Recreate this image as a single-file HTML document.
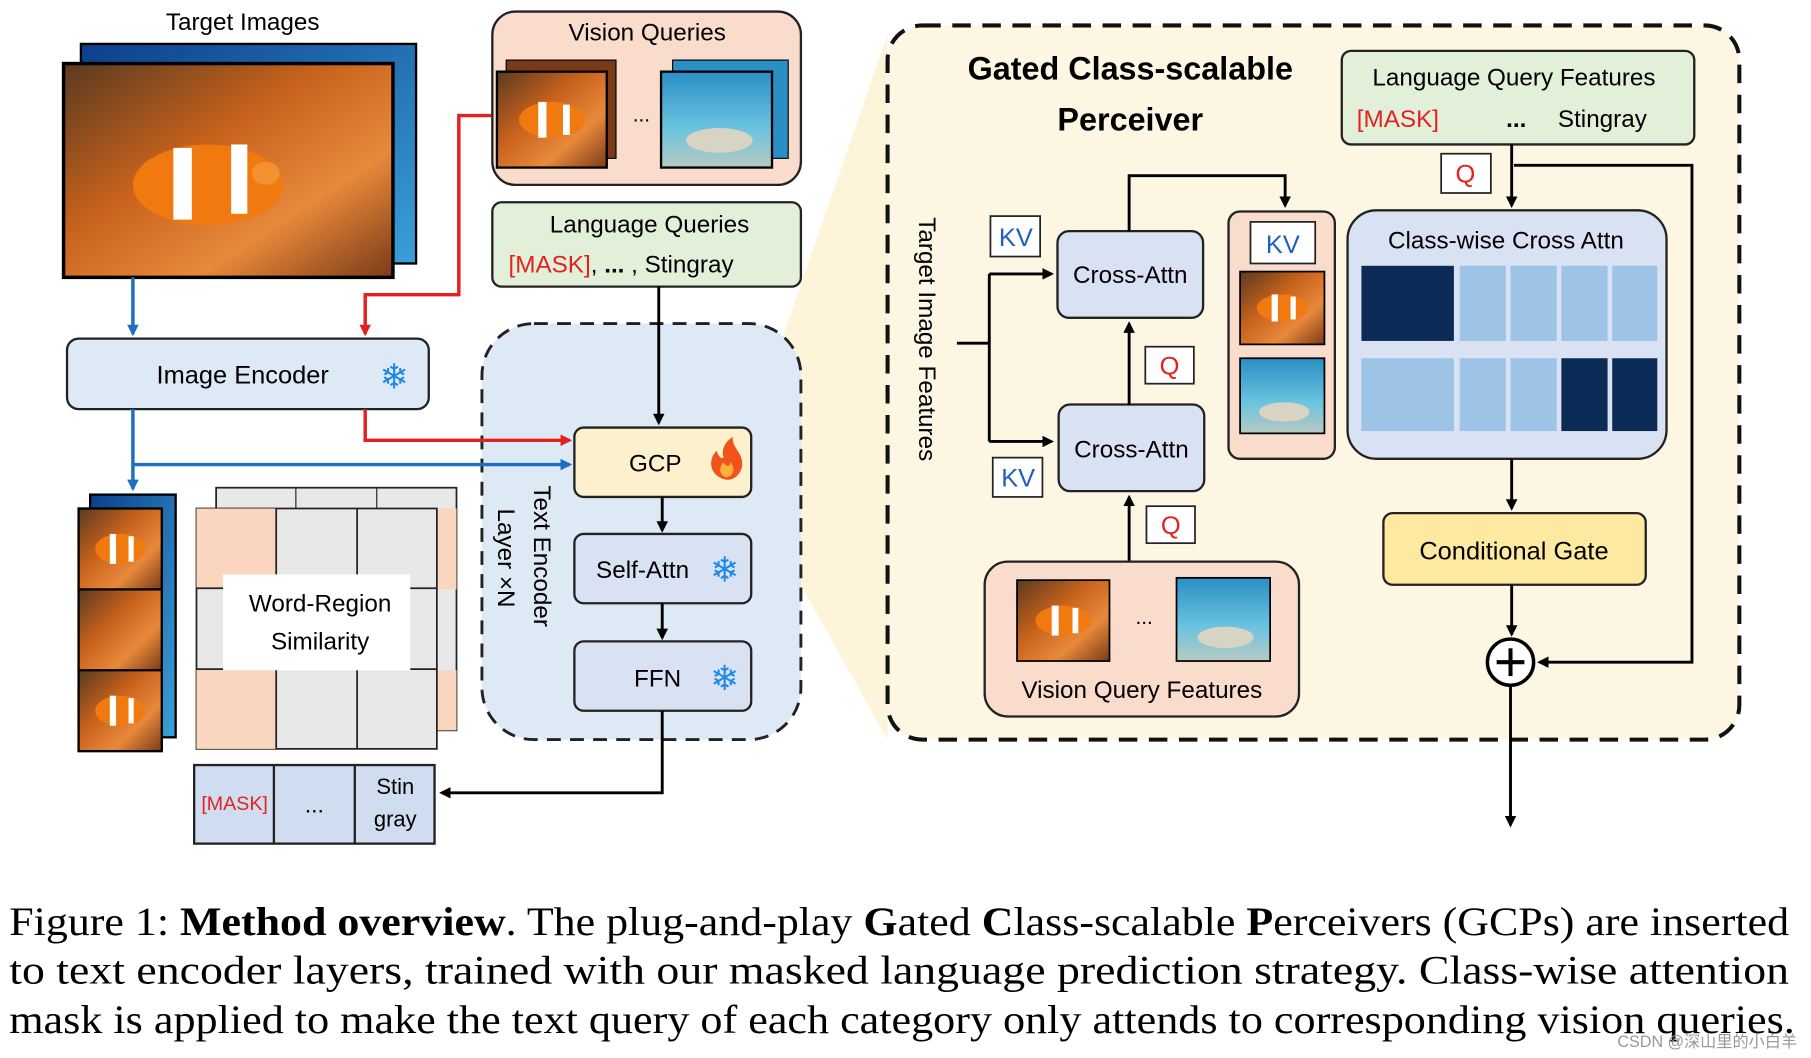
<!DOCTYPE html>
<html><head><meta charset="utf-8"><style>
html,body{margin:0;padding:0;background:#fff;}
svg{display:block;}
text{font-family:"Liberation Sans","DejaVu Sans",sans-serif;}
.s{font-family:"Liberation Serif",serif;}
</style></head><body>
<svg width="1811" height="1058" viewBox="0 0 1567 915.5" preserveAspectRatio="none" xmlns="http://www.w3.org/2000/svg">
<defs>
<marker id="ak" markerWidth="10" markerHeight="10" refX="8" refY="5" orient="auto" markerUnits="userSpaceOnUse"><path d="M0,0 L10,5 L0,10 z" fill="#000"/></marker>
<marker id="ab" markerWidth="10" markerHeight="10" refX="8" refY="5" orient="auto" markerUnits="userSpaceOnUse"><path d="M0,0 L10,5 L0,10 z" fill="#1f6fc0"/></marker>
<marker id="ar" markerWidth="10" markerHeight="10" refX="8" refY="5" orient="auto" markerUnits="userSpaceOnUse"><path d="M0,0 L10,5 L0,10 z" fill="#e52020"/></marker>
<linearGradient id="fish" x1="0" y1="0" x2="1" y2="1"><stop offset="0" stop-color="#5a3a20"/><stop offset="0.4" stop-color="#c8621c"/><stop offset="0.7" stop-color="#e8893a"/><stop offset="1" stop-color="#7a3a18"/></linearGradient>
<linearGradient id="sea" x1="0" y1="0" x2="0" y2="1"><stop offset="0" stop-color="#2a8fc4"/><stop offset="0.6" stop-color="#6cc4e0"/><stop offset="1" stop-color="#b9c9c0"/></linearGradient>
<linearGradient id="bl" x1="0" y1="0" x2="1" y2="1"><stop offset="0" stop-color="#0c3f8c"/><stop offset="1" stop-color="#3aa0d8"/></linearGradient>
<g id="cf"><rect width="80" height="70" fill="url(#fish)"/><ellipse cx="40" cy="35" rx="24" ry="13" fill="#f07a10"/><rect x="30" y="22" width="6" height="26" fill="#fff"/><rect x="48" y="24" width="5" height="22" fill="#fff"/></g>
<g id="sr"><rect width="80" height="70" fill="url(#sea)"/><ellipse cx="42" cy="50" rx="24" ry="9" fill="#d8d4c4"/></g>
</defs>

<text x="210" y="26" font-size="21" text-anchor="middle">Target Images</text>
<rect x="70" y="38" width="290" height="190" fill="url(#bl)" stroke="#000" stroke-width="2"/>
<rect x="55" y="55" width="285" height="185" fill="url(#fish)" stroke="#000" stroke-width="3"/>
<ellipse cx="180" cy="160" rx="65" ry="35" fill="#f07a10"/>
<rect x="150" y="128" width="16" height="62" fill="#fff"/><rect x="200" y="125" width="14" height="60" fill="#fff"/>
<ellipse cx="230" cy="150" rx="12" ry="10" fill="#f39030"/>

<rect x="58" y="293" width="313" height="61" rx="10" fill="#dde9f5" stroke="#222" stroke-width="2"/>
<text x="210" y="332" font-size="22" text-anchor="middle">Image Encoder</text>
<text x="341" y="336" font-size="30" text-anchor="middle" fill="#1e88e5">❄</text>

<line x1="115" y1="240" x2="115" y2="289" stroke="#1f6fc0" stroke-width="3" marker-end="url(#ab)"/>
<polyline points="425,100 397,100 397,255 316,255 316,289" fill="none" stroke="#e52020" stroke-width="3" marker-end="url(#ar)"/>
<line x1="115" y1="354" x2="115" y2="423" stroke="#1f6fc0" stroke-width="3" marker-end="url(#ab)"/>

<rect x="426" y="10" width="267" height="150" rx="20" fill="#f9dccb" stroke="#222" stroke-width="2"/>
<text x="560" y="35" font-size="21" text-anchor="middle">Vision Queries</text>
<rect x="438" y="52" width="95" height="85" fill="#7a3a18" stroke="#000"/>
<g transform="translate(430,62) scale(1.19,1.19)"><use href="#cf"/></g><rect x="430" y="62" width="95" height="83" fill="none" stroke="#000" stroke-width="2"/>
<text x="555" y="105" font-size="18" text-anchor="middle">...</text>
<rect x="582" y="52" width="100" height="85" fill="#2a8fc4" stroke="#000"/>
<g transform="translate(572,62) scale(1.2,1.19)"><use href="#sr"/></g><rect x="572" y="62" width="96" height="83" fill="none" stroke="#000" stroke-width="2"/>

<rect x="426" y="175" width="267" height="73" rx="8" fill="#e2efd9" stroke="#222" stroke-width="2"/>
<text x="562" y="201" font-size="21" text-anchor="middle">Language Queries</text>
<text x="440" y="236" font-size="21"><tspan fill="#e52020">[MASK]</tspan>,  <tspan font-weight="bold">...</tspan> , Stingray</text>

<polygon points="650,370 768,30 768,640 650,430" fill="#fdf1d0" opacity="0.8"/>

<rect x="417" y="280" width="276" height="360" rx="45" fill="#dde9f5" stroke="#222" stroke-width="2.5" stroke-dasharray="12,8"/>
<text transform="translate(462,420) rotate(90)" font-size="21">Text  Encoder</text>
<text transform="translate(431,440) rotate(90)" font-size="21">Layer ×N</text>
<line x1="570" y1="248" x2="570" y2="366" stroke="#000" stroke-width="2.5" marker-end="url(#ak)"/>
<polyline points="115,402 493,402" fill="none" stroke="#1f6fc0" stroke-width="3" marker-end="url(#ab)"/>
<polyline points="316,354 316,381 493,381" fill="none" stroke="#e52020" stroke-width="3" marker-end="url(#ar)"/>
<rect x="497" y="370" width="153" height="60" rx="8" fill="#fdf0cd" stroke="#222" stroke-width="2"/>
<text x="567" y="408" font-size="21" text-anchor="middle">GCP</text>
<path d="M628,415 C614,412 612,398 620,390 C622,396 625,397 626,396 C624,388 628,382 634,378 C633,388 644,392 642,404 C640,412 634,416 628,415 z" fill="#f2531b"/>
<path d="M628,413 C622,411 622,404 626,400 C628,404 632,404 632,400 C636,404 636,412 628,413 z" fill="#fbb03b"/>
<line x1="573" y1="430" x2="573" y2="459" stroke="#000" stroke-width="2.5" marker-end="url(#ak)"/>
<rect x="497" y="462" width="153" height="60" rx="8" fill="#d9e2f3" stroke="#222" stroke-width="2"/>
<text x="556" y="500" font-size="21" text-anchor="middle">Self-Attn</text>
<text x="627" y="503" font-size="30" text-anchor="middle" fill="#1e88e5">❄</text>
<line x1="573" y1="522" x2="573" y2="552" stroke="#000" stroke-width="2.5" marker-end="url(#ak)"/>
<rect x="497" y="555" width="153" height="60" rx="8" fill="#d9e2f3" stroke="#222" stroke-width="2"/>
<text x="569" y="594" font-size="21" text-anchor="middle">FFN</text>
<text x="627" y="597" font-size="30" text-anchor="middle" fill="#1e88e5">❄</text>
<polyline points="573,615 573,686 382,686" fill="none" stroke="#000" stroke-width="2.5" marker-end="url(#ak)"/>

<rect x="168" y="662" width="208" height="68" fill="#d0dcef" stroke="#222" stroke-width="2"/>
<line x1="237" y1="662" x2="237" y2="730" stroke="#222" stroke-width="2"/>
<line x1="307" y1="662" x2="307" y2="730" stroke="#222" stroke-width="2"/>
<text x="203" y="701" font-size="17" text-anchor="middle" fill="#e52020">[MASK]</text>
<text x="272" y="703" font-size="20" text-anchor="middle">...</text>
<text x="342" y="687" font-size="19" text-anchor="middle">Stin</text>
<text x="342" y="715" font-size="19" text-anchor="middle">gray</text>

<rect x="187" y="422" width="208" height="210" fill="#e8e8e8" stroke="#222" stroke-width="1.5"/>
<line x1="256" y1="422" x2="256" y2="440" stroke="#222"/><line x1="326" y1="422" x2="326" y2="440" stroke="#222"/>
<rect x="378" y="440" width="17" height="70" fill="#fad6bf"/><rect x="378" y="580" width="17" height="52" fill="#fad6bf"/>
<rect x="170" y="440" width="208" height="208" fill="#e8e8e8" stroke="#222" stroke-width="1.5"/>
<rect x="170" y="440" width="69" height="69" fill="#fad6bf"/><rect x="170" y="579" width="69" height="69" fill="#fad6bf"/>
<g stroke="#222" stroke-width="1.5"><line x1="239" y1="440" x2="239" y2="648"/><line x1="309" y1="440" x2="309" y2="648"/><line x1="170" y1="509" x2="378" y2="509"/><line x1="170" y1="579" x2="378" y2="579"/></g>
<rect x="193" y="497" width="162" height="83" fill="#fff"/>
<text x="277" y="529" font-size="21" text-anchor="middle">Word-Region</text>
<text x="277" y="562" font-size="21" text-anchor="middle">Similarity</text>

<rect x="78" y="428" width="74" height="210" fill="url(#bl)" stroke="#000" stroke-width="2"/>
<g transform="translate(68,440) scale(0.9,1)"><use href="#cf"/></g>
<g transform="translate(68,510) scale(0.9,1)"><rect width="80" height="70" fill="url(#fish)"/></g>
<g transform="translate(68,580) scale(0.9,1)"><use href="#cf"/></g>
<rect x="68" y="440" width="72" height="210" fill="none" stroke="#000" stroke-width="2"/>
<line x1="68" y1="510" x2="140" y2="510" stroke="#000" stroke-width="2"/><line x1="68" y1="580" x2="140" y2="580" stroke="#000" stroke-width="2"/>

<rect x="768" y="22" width="737" height="618" rx="30" fill="#fdf6e3" stroke="#111" stroke-width="3.5" stroke-dasharray="16,10"/>
<text x="978" y="69" font-size="28" font-weight="bold" text-anchor="middle">Gated Class-scalable</text>
<text x="978" y="113" font-size="28" font-weight="bold" text-anchor="middle">Perceiver</text>
<rect x="1161" y="44" width="305" height="81" rx="8" fill="#e2efd9" stroke="#222" stroke-width="2"/>
<text x="1310" y="74" font-size="21" text-anchor="middle">Language Query Features</text>
<text x="1174" y="110" font-size="21" fill="#e52020">[MASK]</text>
<text x="1312" y="110" font-size="21" font-weight="bold" text-anchor="middle">...</text>
<text x="1348" y="110" font-size="21">Stingray</text>

<text transform="translate(795,188) rotate(90)" font-size="21">Target Image Features</text>
<polyline points="828,297 856,297" fill="none" stroke="#000" stroke-width="2.5"/>
<polyline points="856,237 856,382" fill="none" stroke="#000" stroke-width="2.5"/>
<line x1="856" y1="237" x2="910" y2="237" stroke="#000" stroke-width="2.5" marker-end="url(#ak)"/>
<line x1="856" y1="382" x2="910" y2="382" stroke="#000" stroke-width="2.5" marker-end="url(#ak)"/>

<g font-size="22" fill="#1f5fc0" text-anchor="middle">
<rect x="857" y="187" width="43" height="35" fill="#fff" stroke="#222" stroke-width="1.5"/><text x="879" y="213">KV</text>
<rect x="859" y="396" width="43" height="34" fill="#fff" stroke="#222" stroke-width="1.5"/><text x="881" y="421">KV</text>
</g>
<g font-size="22" fill="#e52020" text-anchor="middle">
<rect x="991" y="300" width="42" height="32" fill="#fff" stroke="#222" stroke-width="1.5"/><text x="1012" y="324">Q</text>
<rect x="992" y="438" width="42" height="32" fill="#fff" stroke="#222" stroke-width="1.5"/><text x="1013" y="462">Q</text>
<rect x="1247" y="133" width="43" height="34" fill="#fff" stroke="#222" stroke-width="1.5"/><text x="1268" y="158">Q</text>
</g>

<rect x="915" y="200" width="126" height="75" rx="10" fill="#d9e2f3" stroke="#222" stroke-width="2"/>
<text x="978" y="245" font-size="21" text-anchor="middle">Cross-Attn</text>
<rect x="916" y="350" width="126" height="75" rx="10" fill="#d9e2f3" stroke="#222" stroke-width="2"/>
<text x="979" y="396" font-size="21" text-anchor="middle">Cross-Attn</text>
<line x1="977" y1="485" x2="977" y2="430" stroke="#000" stroke-width="2.5" marker-end="url(#ak)"/>
<line x1="977" y1="350" x2="977" y2="280" stroke="#000" stroke-width="2.5" marker-end="url(#ak)"/>
<polyline points="977,200 977,152 1112,152 1112,178" fill="none" stroke="#000" stroke-width="2.5" marker-end="url(#ak)"/>

<rect x="1063" y="183" width="92" height="214" rx="10" fill="#f9dccb" stroke="#222" stroke-width="2"/>
<rect x="1082" y="192" width="56" height="36" fill="#fff" stroke="#222" stroke-width="1.5"/>
<text x="1110" y="219" font-size="22" fill="#1f5fc0" text-anchor="middle">KV</text>
<g transform="translate(1073,235) scale(0.91,0.9)"><use href="#cf"/></g><rect x="1073" y="235" width="73" height="63" fill="none" stroke="#000" stroke-width="1.5"/>
<g transform="translate(1073,310) scale(0.91,0.93)"><use href="#sr"/></g><rect x="1073" y="310" width="73" height="65" fill="none" stroke="#000" stroke-width="1.5"/>

<rect x="1166" y="182" width="276" height="215" rx="25" fill="#d9e2f3" stroke="#222" stroke-width="2"/>
<text x="1303" y="215" font-size="21" text-anchor="middle">Class-wise Cross Attn</text>
<g>
<rect x="1178" y="230" width="80" height="65" fill="#0b2a55"/>
<rect x="1263" y="230" width="40" height="65" fill="#9dc3e6"/><rect x="1307" y="230" width="40" height="65" fill="#9dc3e6"/><rect x="1351" y="230" width="40" height="65" fill="#9dc3e6"/><rect x="1395" y="230" width="39" height="65" fill="#9dc3e6"/>
<rect x="1178" y="310" width="80" height="63" fill="#9dc3e6"/>
<rect x="1263" y="310" width="40" height="63" fill="#9dc3e6"/><rect x="1307" y="310" width="40" height="63" fill="#9dc3e6"/><rect x="1351" y="310" width="40" height="63" fill="#0b2a55"/><rect x="1395" y="310" width="39" height="63" fill="#0b2a55"/>
</g>
<line x1="1308" y1="125" x2="1308" y2="178" stroke="#000" stroke-width="2.5" marker-end="url(#ak)"/>
<line x1="1308" y1="397" x2="1308" y2="440" stroke="#000" stroke-width="2.5" marker-end="url(#ak)"/>
<rect x="1197" y="444" width="227" height="62" rx="8" fill="#fde9a0" stroke="#222" stroke-width="2"/>
<text x="1310" y="484" font-size="22" text-anchor="middle">Conditional Gate</text>
<line x1="1308" y1="506" x2="1308" y2="549" stroke="#000" stroke-width="2.5" marker-end="url(#ak)"/>
<polyline points="1310,143 1464,143 1464,573 1332,573" fill="none" stroke="#000" stroke-width="2.5" marker-end="url(#ak)"/>
<circle cx="1307" cy="573" r="20" fill="#fff" stroke="#000" stroke-width="3"/>
<line x1="1295" y1="573" x2="1319" y2="573" stroke="#000" stroke-width="3.5"/><line x1="1307" y1="561" x2="1307" y2="585" stroke="#000" stroke-width="3.5"/>
<line x1="1307" y1="593" x2="1307" y2="714" stroke="#000" stroke-width="2.5" marker-end="url(#ak)"/>

<rect x="852" y="486" width="272" height="134" rx="20" fill="#f9dccb" stroke="#222" stroke-width="2"/>
<g transform="translate(880,502)"><use href="#cf"/></g><rect x="880" y="502" width="80" height="70" fill="none" stroke="#000" stroke-width="1.5"/>
<text x="990" y="540" font-size="18" text-anchor="middle">...</text>
<g transform="translate(1018,500) scale(1.01,1.03)"><use href="#sr"/></g><rect x="1018" y="500" width="81" height="72" fill="none" stroke="#000" stroke-width="1.5"/>
<text x="988" y="604" font-size="21" text-anchor="middle">Vision Query Features</text>

<g class="s" font-size="35">
<text class="s" x="8" y="809" textLength="1540" lengthAdjust="spacingAndGlyphs">Figure 1: <tspan font-weight="bold">Method overview</tspan>. The plug-and-play <tspan font-weight="bold">G</tspan>ated <tspan font-weight="bold">C</tspan>lass-scalable <tspan font-weight="bold">P</tspan>erceivers (GCPs) are inserted</text>
<text class="s" x="8" y="851" textLength="1540" lengthAdjust="spacingAndGlyphs">to text encoder layers, trained with our masked language prediction strategy. Class-wise attention</text>
<text class="s" x="8" y="894" textLength="1545" lengthAdjust="spacingAndGlyphs">mask is applied to make the text query of each category only attends to corresponding vision queries.</text>
</g>
<text x="1555" y="906" font-size="14" fill="#999" text-anchor="end" font-family="'Liberation Sans','Noto Sans CJK SC',sans-serif">CSDN @深山里的小白羊</text>
</svg>
</body></html>
